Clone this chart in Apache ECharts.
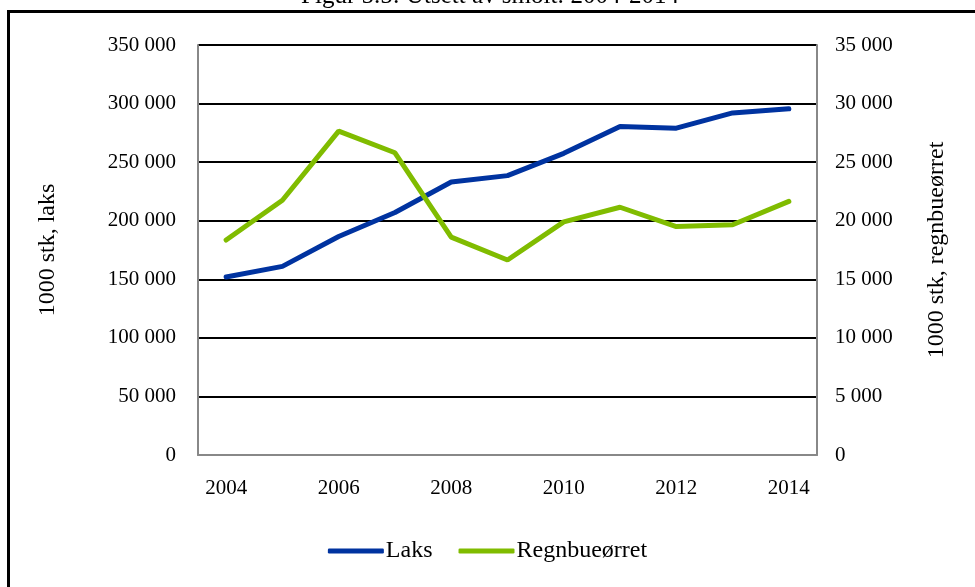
<!DOCTYPE html>
<html>
<head>
<meta charset="utf-8">
<script src="https://cdn.jsdelivr.net/npm/echarts@6/dist/echarts.min.js"></script>
<style>
  html, body { margin: 0; padding: 0; background: #fff; }
  #chart { width: 975px; height: 587px; }
</style>
</head>
<body>
<div id="chart"></div>
<script>
// data
const years = ['2004', '2005', '2006', '2007', '2008', '2009', '2010', '2011', '2012', '2013', '2014']
const laks = [152000, 161000, 186500, 207000, 233000, 238500, 257500, 280500, 279000, 292000, 295500]
const regnbue = [18350, 21750, 27650, 25800, 18600, 16650, 19900, 21150, 19500, 19650, 21650]
const titleText = 'Figur 5.5: Utsett av smolt: 2004-2014'

const serif = '"Liberation Serif", "DejaVu Serif", serif'

// "350 000" style
const fmt = v => String(v).replace(/\B(?=(\d{3})+(?!\d))/g, ' ')

const chart = echarts.init(document.getElementById('chart'))

const option = {
  animation: false,
  textStyle: { fontFamily: serif, color: '#000' },
  graphic: [
    {
      type: 'rect',
      shape: { x: 8.5, y: 11.5, width: 1000, height: 700 },
      style: { fill: 'none', stroke: '#000', lineWidth: 3 },
      z: 1
    },
    {
      type: 'text',
      x: 490,
      y: 9,
      style: {
        text: titleText,
        font: '25px ' + serif,
        fill: '#000',
        align: 'center',
        verticalAlign: 'bottom'
      },
      z: 2
    }
  ],
  grid: {
    left: 198,
    right: 158,
    top: 45,
    bottom: 132
  },
  legend: {
    bottom: 19,
    left: 'center',
    itemWidth: 56,
    itemHeight: 5,
    itemGap: 26,
    icon: 'roundRect',
    textStyle: { fontFamily: serif, fontSize: 24, color: '#000', padding: [0, 0, 0, -3] },
    data: ['Laks', 'Regnbueørret']
  },
  xAxis: {
    type: 'category',
    data: years,
    boundaryGap: true,
    axisLine: { lineStyle: { color: '#888', width: 2 } },
    axisTick: { show: false },
    axisLabel: {
      interval: 1,
      margin: 23,
      fontFamily: serif,
      fontSize: 21,
      color: '#000'
    }
  },
  yAxis: [
    {
      type: 'value',
      min: 0,
      max: 350000,
      interval: 50000,
      name: '1000 stk, laks',
      nameLocation: 'middle',
      nameRotate: 90,
      nameGap: 138,
      nameTextStyle: { fontFamily: serif, fontSize: 24, color: '#000' },
      axisLine: { show: true, lineStyle: { color: '#888', width: 2 } },
      axisTick: { show: false },
      axisLabel: {
        margin: 22,
        fontFamily: serif,
        fontSize: 21,
        color: '#000',
        formatter: fmt
      },
      splitLine: { lineStyle: { color: '#000', width: 2 } }
    },
    {
      type: 'value',
      min: 0,
      max: 35000,
      interval: 5000,
      position: 'right',
      name: '1000 stk, regnbueørret',
      nameLocation: 'middle',
      nameRotate: 90,
      nameGap: 108,
      nameTextStyle: { fontFamily: serif, fontSize: 24, color: '#000' },
      axisLine: { show: true, lineStyle: { color: '#888', width: 2 } },
      axisTick: { show: false },
      axisLabel: {
        margin: 18,
        fontFamily: serif,
        fontSize: 21,
        color: '#000',
        formatter: fmt
      },
      splitLine: { show: false }
    }
  ],
  series: [
    {
      name: 'Laks',
      type: 'line',
      data: laks,
      yAxisIndex: 0,
      symbol: 'none',
      lineStyle: { color: '#0033a0', width: 5, cap: 'round' },
      itemStyle: { color: '#0033a0' },
      z: 3
    },
    {
      name: 'Regnbueørret',
      type: 'line',
      data: regnbue,
      yAxisIndex: 1,
      symbol: 'none',
      lineStyle: { color: '#80bc00', width: 5, cap: 'round' },
      itemStyle: { color: '#80bc00' },
      z: 3
    }
  ]
}

chart.setOption(option)
</script>
</body>
</html>
